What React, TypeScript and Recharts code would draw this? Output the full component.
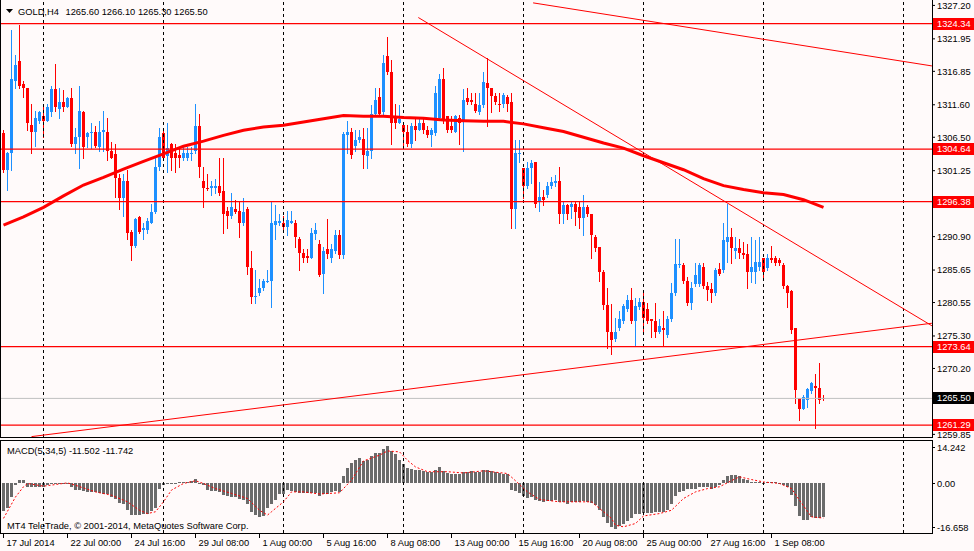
import React from "react";
import { ComposedChart, Bar, Line, XAxis, YAxis, ReferenceLine } from "recharts";

// GOLD H4, 17 Jul - 2 Sep 2014, one candle per slot
const OPEN = [
  1307.1, 1301.3, 1304.0, 1315.4, 1318.4, 1314.8, 1314.2, 1308.5, 1307.3, 1309.1,
  1309.9, 1309.1, 1310.4, 1314.0, 1310.9, 1312.0, 1311.3, 1312.6, 1305.5, 1306.6,
  1310.4, 1306.5, 1307.1, 1307.4, 1304.9, 1307.3, 1307.3, 1304.4, 1303.8, 1300.1,
  1296.9, 1299.7, 1291.7, 1289.4, 1294.0, 1291.9, 1292.0, 1293.1, 1294.7, 1301.9,
  1307.1, 1303.6, 1305.5, 1304.0, 1303.7, 1303.2, 1303.3, 1304.0, 1304.4, 1308.2,
  1299.7, 1298.6, 1298.6, 1298.6, 1298.9, 1298.0, 1294.9, 1294.1, 1295.3, 1294.9,
  1293.0, 1295.3, 1285.9, 1281.4, 1282.1, 1282.8, 1283.9, 1284.0, 1292.7, 1293.1,
  1293.1, 1292.4, 1293.1, 1293.1, 1290.6, 1288.3, 1287.8, 1287.6, 1291.3, 1289.8,
  1285.0, 1288.9, 1287.6, 1288.6, 1291.1, 1288.0, 1306.8, 1307.4, 1305.1, 1306.0,
  1306.3, 1303.5, 1304.4, 1310.2, 1312.8, 1310.4, 1319.2, 1316.7, 1309.9, 1308.8,
  1308.5, 1307.4, 1305.5, 1308.2, 1307.7, 1308.8, 1307.6, 1306.8, 1307.1, 1309.6,
  1315.6, 1309.8, 1308.2, 1307.4, 1309.6, 1309.1, 1312.6, 1312.3, 1311.8, 1310.4,
  1311.5, 1315.0, 1314.3, 1312.9, 1311.8, 1311.7, 1312.8, 1312.0, 1295.3, 1303.8,
  1301.6, 1298.8, 1301.6, 1302.6, 1296.4, 1297.1, 1297.4, 1298.8, 1299.3, 1299.7,
  1294.5, 1295.8, 1295.5, 1296.1, 1295.6, 1293.9, 1295.6, 1294.5, 1290.8, 1289.2,
  1285.4, 1280.1, 1275.9, 1274.8, 1276.6, 1277.6, 1279.6, 1281.0, 1277.6, 1279.8,
  1280.6, 1279.6, 1277.9, 1277.6, 1276.0, 1276.6, 1275.5, 1277.9, 1282.0, 1286.4,
  1286.4, 1283.9, 1280.4, 1283.4, 1283.4, 1286.2, 1283.2, 1282.6, 1282.0, 1285.8,
  1285.6, 1290.1, 1290.8, 1288.7, 1289.1, 1288.4, 1288.1, 1285.4, 1285.4, 1286.1,
  1287.6, 1285.9, 1287.5, 1287.5, 1287.2, 1286.5, 1283.1, 1282.3, 1276.5, 1265.5,
  1263.9, 1265.3, 1266.6, 1267.5, 1267.2, 1265.6,
];

const HIGH = [
  1307.6, 1304.2, 1323.4, 1319.4, 1324.2, 1315.4, 1314.3, 1311.8, 1310.7, 1310.7,
  1311.8, 1311.8, 1314.5, 1318.0, 1314.2, 1313.9, 1312.8, 1314.3, 1308.0, 1314.5,
  1310.7, 1307.3, 1308.8, 1308.2, 1309.1, 1310.7, 1309.5, 1305.7, 1305.5, 1300.8,
  1300.8, 1301.3, 1291.9, 1293.8, 1294.1, 1293.1, 1293.9, 1296.1, 1303.2, 1307.9,
  1307.9, 1308.8, 1305.6, 1305.5, 1304.8, 1304.9, 1304.9, 1304.9, 1311.8, 1310.2,
  1301.8, 1300.8, 1299.7, 1299.9, 1303.2, 1303.2, 1295.5, 1297.7, 1296.6, 1296.3,
  1296.9, 1295.6, 1288.7, 1285.6, 1284.3, 1284.3, 1285.6, 1296.4, 1295.8, 1294.4,
  1294.2, 1295.0, 1295.0, 1293.5, 1290.9, 1289.0, 1289.0, 1292.2, 1293.1, 1290.3,
  1289.2, 1293.6, 1289.7, 1291.9, 1292.0, 1307.4, 1309.0, 1307.9, 1307.7, 1307.6,
  1308.0, 1307.9, 1311.5, 1314.2, 1314.2, 1319.4, 1322.3, 1318.7, 1311.8, 1311.5,
  1308.7, 1308.4, 1308.7, 1309.5, 1309.6, 1309.6, 1308.2, 1308.0, 1314.6, 1316.4,
  1317.3, 1309.8, 1309.8, 1310.0, 1310.0, 1314.0, 1314.3, 1313.5, 1313.5, 1313.5,
  1316.8, 1318.9, 1314.3, 1313.5, 1313.4, 1313.4, 1313.1, 1313.4, 1306.0, 1306.0,
  1301.6, 1302.6, 1302.9, 1302.6, 1299.4, 1298.2, 1299.4, 1300.2, 1300.5, 1301.9,
  1296.3, 1296.1, 1296.3, 1296.3, 1296.3, 1297.5, 1295.8, 1294.5, 1291.1, 1289.2,
  1285.6, 1282.9, 1280.3, 1278.2, 1279.3, 1280.3, 1281.7, 1282.8, 1281.2, 1281.2,
  1282.1, 1280.4, 1277.9, 1280.4, 1277.9, 1279.3, 1278.5, 1283.6, 1290.6, 1290.6,
  1286.8, 1284.5, 1283.7, 1286.8, 1286.8, 1286.7, 1283.7, 1283.6, 1285.9, 1286.8,
  1293.1, 1296.1, 1292.2, 1290.8, 1290.6, 1290.0, 1289.8, 1290.9, 1290.3, 1290.9,
  1287.6, 1288.1, 1289.5, 1287.8, 1287.5, 1286.8, 1283.3, 1282.5, 1276.5, 1265.5,
  1266.0, 1267.2, 1268.0, 1269.4, 1271.0, 1266.1,
];

const LOW = [
  1301.0, 1298.2, 1301.3, 1314.3, 1314.3, 1312.8, 1307.6, 1304.1, 1305.1, 1308.8,
  1306.5, 1309.0, 1309.9, 1310.7, 1309.6, 1310.7, 1311.2, 1305.2, 1304.0, 1301.6,
  1303.2, 1304.9, 1304.8, 1304.9, 1304.4, 1304.4, 1302.9, 1303.2, 1297.1, 1295.3,
  1294.2, 1290.6, 1287.2, 1289.2, 1291.4, 1290.6, 1291.4, 1293.0, 1294.6, 1301.3,
  1302.9, 1301.0, 1301.3, 1301.1, 1301.8, 1303.0, 1302.9, 1303.0, 1304.1, 1300.2,
  1295.5, 1298.2, 1297.5, 1297.7, 1297.5, 1291.4, 1292.2, 1293.9, 1294.6, 1290.9,
  1292.7, 1285.0, 1280.4, 1280.4, 1281.8, 1282.5, 1283.7, 1279.9, 1290.6, 1292.7,
  1291.9, 1291.1, 1293.0, 1289.2, 1285.6, 1286.9, 1286.9, 1287.5, 1290.6, 1284.7,
  1282.0, 1287.5, 1286.9, 1288.3, 1287.6, 1287.6, 1304.0, 1303.2, 1304.4, 1305.7,
  1301.6, 1301.6, 1303.3, 1310.1, 1309.9, 1310.1, 1316.4, 1305.5, 1308.0, 1308.7,
  1304.8, 1305.2, 1304.9, 1306.0, 1307.6, 1307.1, 1306.5, 1305.1, 1306.8, 1309.5,
  1308.8, 1307.4, 1307.3, 1307.3, 1305.5, 1304.4, 1311.8, 1311.7, 1310.4, 1310.2,
  1311.3, 1308.2, 1310.4, 1311.7, 1310.6, 1311.3, 1310.7, 1292.2, 1292.3, 1302.6,
  1296.9, 1298.6, 1299.3, 1295.6, 1295.0, 1295.8, 1297.1, 1298.5, 1298.9, 1293.1,
  1293.1, 1293.6, 1293.8, 1292.7, 1292.2, 1291.1, 1294.1, 1287.5, 1288.7, 1284.0,
  1279.6, 1273.4, 1272.4, 1274.5, 1276.2, 1277.3, 1279.3, 1277.4, 1273.8, 1279.5,
  1275.7, 1277.3, 1275.1, 1275.1, 1275.7, 1273.8, 1275.1, 1277.6, 1281.7, 1286.2,
  1283.6, 1280.1, 1279.6, 1283.1, 1283.1, 1282.9, 1280.9, 1280.7, 1281.7, 1284.8,
  1285.3, 1286.9, 1286.7, 1287.5, 1287.5, 1287.5, 1282.9, 1283.7, 1283.6, 1285.6,
  1284.2, 1285.6, 1286.9, 1286.4, 1286.4, 1282.9, 1279.8, 1275.7, 1264.7, 1262.1,
  1263.9, 1264.1, 1266.3, 1260.9, 1264.7, 1265.3,
];

const CLOSE = [
  1301.3, 1304.0, 1315.7, 1317.8, 1314.6, 1314.2, 1308.7, 1307.4, 1309.5, 1310.4,
  1309.1, 1311.3, 1314.0, 1311.2, 1312.0, 1311.2, 1312.6, 1305.5, 1306.6, 1310.7,
  1304.9, 1307.1, 1307.4, 1305.1, 1307.4, 1307.6, 1304.4, 1303.3, 1300.1, 1296.9,
  1299.7, 1291.4, 1289.4, 1293.6, 1291.7, 1292.2, 1293.3, 1294.7, 1301.9, 1306.6,
  1303.2, 1304.8, 1303.3, 1303.3, 1303.3, 1304.0, 1304.1, 1304.1, 1308.2, 1301.8,
  1298.5, 1298.5, 1298.8, 1298.8, 1297.8, 1294.5, 1294.1, 1295.5, 1294.7, 1293.0,
  1294.7, 1286.1, 1281.4, 1281.5, 1282.9, 1283.9, 1284.0, 1293.1, 1293.3, 1293.3,
  1292.4, 1293.5, 1293.3, 1290.8, 1288.3, 1287.5, 1287.6, 1291.4, 1292.0, 1284.8,
  1288.6, 1288.1, 1288.9, 1291.1, 1288.0, 1307.0, 1307.3, 1303.7, 1306.0, 1306.5,
  1303.7, 1304.3, 1310.2, 1312.3, 1310.2, 1318.1, 1316.7, 1308.8, 1308.7, 1309.3,
  1307.3, 1305.5, 1308.2, 1307.6, 1308.7, 1307.6, 1306.8, 1307.6, 1313.4, 1315.6,
  1309.1, 1307.7, 1307.7, 1309.8, 1308.8, 1312.3, 1312.1, 1312.0, 1310.7, 1311.5,
  1315.1, 1314.3, 1312.9, 1312.0, 1311.5, 1313.1, 1311.8, 1295.3, 1304.0, 1304.1,
  1298.9, 1301.6, 1302.4, 1296.1, 1297.1, 1296.6, 1298.8, 1299.4, 1299.7, 1294.5,
  1295.8, 1294.5, 1296.1, 1294.7, 1293.9, 1295.6, 1294.4, 1291.1, 1289.1, 1285.4,
  1280.1, 1275.9, 1274.6, 1276.0, 1277.9, 1280.0, 1281.0, 1277.6, 1280.0, 1280.6,
  1278.2, 1277.6, 1277.6, 1276.0, 1276.8, 1276.3, 1277.9, 1282.0, 1286.6, 1286.6,
  1283.9, 1280.4, 1282.9, 1284.8, 1286.4, 1283.2, 1282.5, 1282.1, 1285.6, 1285.1,
  1290.3, 1290.8, 1289.1, 1289.1, 1288.4, 1288.0, 1285.4, 1286.2, 1286.9, 1286.9,
  1285.4, 1287.6, 1287.2, 1286.7, 1286.7, 1283.1, 1282.1, 1276.2, 1266.8, 1263.9,
  1265.7, 1266.9, 1267.9, 1267.2, 1265.2, 1265.5,
];

// moving average: [candle index, price]
const MA_POINTS: [number, number][] = [
  [0, 1292.7], [5, 1294.0], [10, 1295.5], [15, 1297.3], [20, 1299.0], [25, 1300.2],
  [30, 1301.5], [35, 1302.7], [40, 1303.9], [45, 1305.1], [50, 1305.9], [55, 1306.8],
  [60, 1307.6], [65, 1308.1], [70, 1308.4], [75, 1308.9], [80, 1309.4], [85, 1309.9],
  [90, 1309.8], [95, 1309.8], [100, 1309.6], [105, 1309.5], [110, 1309.2], [115, 1309.1],
  [120, 1309.0], [125, 1309.0], [130, 1308.6], [135, 1308.0], [140, 1307.4], [145, 1306.5],
  [150, 1305.6], [155, 1304.8], [160, 1303.6], [165, 1302.5], [170, 1301.4], [175, 1300.0],
  [180, 1298.9], [185, 1298.3], [190, 1297.8], [195, 1297.5], [200, 1296.7], [205, 1295.5],
];

const MACD_HIST = [
  -9.3, -8.5, -4.7, -0.8, 0.9, 0.9, -1.5, -1.5, -1.5, -1.3,
  -1.5, -0.8, -0.4, -0.2, -0.2, -0.2, -0.2, -1.5, -2.4, -2.4,
  -2.7, -3.0, -3.0, -3.0, -3.3, -3.6, -3.8, -4.7, -5.2, -6.6,
  -7.1, -9.1, -10.8, -10.8, -10.8, -10.4, -10.2, -9.3, -8.5, -1.9,
  -0.8, -0.2, -0.2, 0.1, 0.4, 0.4, 0.4, 0.6, 1.2, -0.2,
  -0.8, -2.4, -2.7, -2.7, -3.0, -4.1, -4.5, -4.7, -4.7, -5.2,
  -5.7, -7.1, -9.6, -10.8, -11.3, -11.0, -8.5, -7.1, -5.7, -3.6,
  -3.6, -2.4, -2.7, -3.0, -3.3, -3.3, -3.3, -3.3, -3.3, -4.2,
  -3.6, -3.6, -3.0, -2.8, -3.0, 2.2, 5.1, 6.6, 7.5, 8.1,
  7.3, 7.5, 8.9, 10.0, 10.0, 11.4, 12.3, 10.7, 9.5, 7.7,
  6.4, 5.1, 4.7, 4.4, 4.4, 4.0, 3.7, 3.7, 4.4, 5.3,
  4.0, 3.3, 2.9, 3.1, 2.9, 3.7, 3.7, 3.9, 3.7, 3.7,
  4.2, 4.4, 4.0, 3.7, 3.3, 3.1, 3.1, -2.4, -2.8, -3.3,
  -4.4, -5.0, -4.7, -5.6, -6.1, -6.3, -6.0, -6.0, -5.7, -6.3,
  -6.3, -6.9, -6.3, -6.3, -6.3, -6.0, -6.3, -6.6, -7.4, -8.9,
  -11.5, -13.3, -14.8, -15.2, -14.4, -13.7, -12.6, -11.8, -10.4, -10.2,
  -10.0, -10.0, -10.0, -9.6, -9.6, -9.6, -9.1, -7.1, -4.4, -3.0,
  -2.7, -2.2, -2.2, -1.9, -1.5, -1.5, -1.5, -1.9, -1.5, -0.8,
  0.9, 2.2, 2.5, 2.5, 2.2, 1.4, 0.9, 0.4, 0.4, 0.4,
  0.1, 0.4, 0.4, 0.4, -0.2, -0.8, -1.3, -4.1, -7.7, -11.0,
  -12.2, -12.4, -11.5, -11.8, -11.8, -11.5,
];

// signal line: [candle index, value]
const MACD_SIGNAL: [number, number][] = [
  [0, -11.8], [3, -4.7], [5, -1.3], [6, -0.2], [10, -1.1], [16, 0.0], [18, -0.8],
  [23, -3.0], [27, -4.1], [31, -6.3], [34, -9.1], [36, -10.2], [38, -9.6], [40, -6.3],
  [42, -2.4], [45, -0.2], [48, 0.7], [50, -0.2], [53, -1.9], [57, -3.5], [61, -5.2],
  [64, -9.1], [66, -10.7], [67, -9.6], [70, -6.3], [72, -3.0], [75, -3.0], [79, -3.7],
  [84, -3.3], [87, 0.9], [90, 7.3], [94, 9.2], [96, 10.6], [99, 10.3], [101, 7.5],
  [103, 5.3], [106, 3.7], [111, 3.7], [115, 3.3], [120, 4.0], [126, 3.1], [128, 0.7],
  [131, -3.0], [134, -5.5], [139, -6.3], [147, -6.3], [149, -8.5], [152, -11.8],
  [153, -14.1], [155, -14.6], [158, -13.5], [160, -11.0], [164, -10.2], [167, -9.1],
  [170, -5.2], [173, -3.0], [176, -1.9], [179, -1.3], [183, 1.4], [184, 2.0], [187, 1.1],
  [190, 0.3], [194, -0.2], [197, -1.9], [199, -5.8], [202, -11.3], [205, -11.7],
];

const DATE_TICKS = [0, 16, 32, 48, 64, 80, 96, 112, 128, 144, 160, 176, 192];
const DATE_LABELS = [
  "17 Jul 2014", "22 Jul 00:00", "24 Jul 16:00", "29 Jul 08:00", "1 Aug 00:00",
  "5 Aug 16:00", "8 Aug 08:00", "13 Aug 00:00", "15 Aug 16:00", "20 Aug 08:00",
  "25 Aug 00:00", "27 Aug 16:00", "1 Sep 08:00",
];
const PRICE_TICKS = [
  1327.2, 1321.95, 1316.85, 1311.6, 1306.5, 1301.25, 1290.9, 1285.65, 1280.55,
  1275.3, 1270.2, 1259.85,
];
const MACD_TICKS = [14.242, 0, -16.658];
const LEVELS = [1324.34, 1304.64, 1296.38, 1273.64, 1261.29];
const BID = 1265.5;
const GRID_AT = [10, 40, 70, 100, 130, 160, 190, 225];
const TRENDLINES: [number, number][][] = [
  [[132.4, 1327.6], [232.1, 1317.7]],
  [[103.7, 1325.3], [232.1, 1276.9]],
  [[7, 1259.5], [232.1, 1277.3]],
];

const FONT = '"Liberation Sans", Arial, sans-serif';
const FS = 9.3;
const BLUE = "#1e90ff";
const RED = "#ff0000";
const BG = "#fffafa";
const X_DOMAIN: [number, number] = [-0.875, 232.125];

const maMap = new Map(MA_POINTS);
const sigMap = new Map(MACD_SIGNAL);
const rows = OPEN.map((o, i) => ({
  i,
  open: o,
  high: HIGH[i],
  low: LOW[i],
  close: CLOSE[i],
  ma: maMap.has(i) ? maMap.get(i) : null,
  macd: MACD_HIST[i],
  signal: sigMap.has(i) ? sigMap.get(i) : null,
}));

function Candle(props: any) {
  const { x, y, width, height, payload } = props;
  if (x == null || y == null) return null;
  const { open, close, high, low } = payload;
  const top = Math.min(y, y + height);
  const h = Math.abs(height);
  const span = high - low || 1;
  const py = (v: number) => top + ((high - v) / span) * h;
  const color = close >= open ? BLUE : RED;
  const cx = Math.round(x + width / 2 - 0.5) + 0.5;
  const bTop = Math.round(py(Math.max(open, close)));
  const bBot = Math.round(py(Math.min(open, close)));
  return (
    <g>
      <line x1={cx} x2={cx} y1={Math.round(top)} y2={Math.round(top + h) + 1} stroke={color} strokeWidth={1} />
      <rect x={cx - 1.5} y={bTop} width={3} height={Math.max(1, bBot - bTop)} fill={color} />
    </g>
  );
}

function HistBar(props: any) {
  const { x, y, width, height } = props;
  if (x == null || y == null) return null;
  const cx = Math.round(x + width / 2 - 0.5) + 0.5;
  const top = Math.round(Math.min(y, y + height));
  const bot = Math.round(Math.max(y, y + height));
  return <rect x={cx - 1.5} y={top} width={3} height={Math.max(1, bot - top)} fill="#6b6b6b" />;
}

function PriceTag(props: any) {
  const { viewBox, text, bg } = props;
  if (!viewBox) return null;
  const x = viewBox.x + viewBox.width;
  const y = Math.round(viewBox.y);
  return (
    <g>
      <rect x={x + 1} y={y - 6} width={41} height={12} fill={bg} />
      <text x={x + 5} y={y} dy="0.35em" fill="#fff" fontSize={FS} fontFamily={FONT}>
        {text}
      </text>
    </g>
  );
}

function MacdTick(props: any) {
  const { x, y, payload } = props;
  const v = payload.value;
  const dy = v > 1 ? 7 : v < -1 ? -6 : 0;
  const label = v === 0 ? "0.00" : v.toFixed(3);
  const ty = Math.round(y + dy) + 0.5;
  return (
    <g>
      <line x1={x - 5} x2={x - 2} y1={ty} y2={ty} stroke="#000" />
      <text x={x} y={ty} dy="0.35em" fontSize={FS} fontFamily={FONT} fill="#000">
        {label}
      </text>
    </g>
  );
}

function DateTick(props: any) {
  const { x, y, payload } = props;
  const k = DATE_TICKS.indexOf(payload.value);
  const lx = Math.round(x - 0.5) + 0.5;
  return (
    <g>
      <line x1={lx} x2={lx} y1={y - 5} y2={y} stroke="#000" />
      <text x={x + 3} y={y + 8} fontSize={FS} fontFamily={FONT} fill="#000">
        {DATE_LABELS[k]}
      </text>
    </g>
  );
}

export default function App() {
  return (
    <div style={{ position: "absolute", left: 0, top: 0, width: 974, height: 551, background: BG, overflow: "hidden" }}>
      <div style={{ position: "absolute", left: 0, top: 0 }}>
        <ComposedChart width={974} height={440} data={rows} margin={{ top: 0, right: 0, bottom: 3, left: 0 }}>
          <XAxis dataKey="i" type="number" domain={X_DOMAIN} allowDataOverflow hide />
          <YAxis
            orientation="right"
            type="number"
            width={42}
            domain={[1259.44, 1328.05]}
            allowDataOverflow
            ticks={PRICE_TICKS}
            interval={0}
            tickFormatter={(v: number) => v.toFixed(2)}
            tick={{ fontSize: FS, fill: "#000", fontFamily: FONT }}
            axisLine={false}
            tickLine={{ stroke: "#000" }}
            tickSize={3}
            tickMargin={2}
          />
          {GRID_AT.map((g) => (
            <ReferenceLine key={"g" + g} x={g} stroke="#000" strokeDasharray="3 3" />
          ))}
          <ReferenceLine y={BID} stroke="#c0c0c0" label={<PriceTag text={BID.toFixed(2)} bg="#000" />} />
          {LEVELS.map((lv) => (
            <ReferenceLine
              key={"l" + lv}
              y={lv}
              stroke={RED}
              strokeWidth={1.2}
              label={<PriceTag text={lv.toFixed(2)} bg={RED} />}
            />
          ))}
          {TRENDLINES.map((t, k) => (
            <ReferenceLine
              key={"t" + k}
              segment={[{ x: t[0][0], y: t[0][1] }, { x: t[1][0], y: t[1][1] }]}
              stroke={RED}
              ifOverflow="visible"
            />
          ))}
          <Bar
            dataKey={(d: any) => [d.low, d.high]}
            barSize={3}
            shape={(p: any) => <Candle {...p} />}
            isAnimationActive={false}
          />
          <Line
            dataKey="ma"
            type="linear"
            stroke={RED}
            strokeWidth={3}
            dot={false}
            activeDot={false}
            connectNulls
            isAnimationActive={false}
          />
        </ComposedChart>
      </div>

      <div style={{ position: "absolute", left: 0, top: 440 }}>
        <ComposedChart width={974} height={111} data={rows} margin={{ top: 0, right: 0, bottom: 0, left: 0 }}>
          <XAxis
            dataKey="i"
            type="number"
            domain={X_DOMAIN}
            allowDataOverflow
            ticks={DATE_TICKS}
            interval={0}
            height={18}
            axisLine={false}
            tickLine={false}
            tickSize={5}
            tickMargin={0}
            tick={(p: any) => <DateTick {...p} />}
          />
          <YAxis
            orientation="right"
            type="number"
            width={42}
            domain={[-16.658, 14.242]}
            allowDataOverflow
            ticks={MACD_TICKS}
            interval={0}
            axisLine={false}
            tickLine={false}
            tickSize={3}
            tickMargin={2}
            tick={(p: any) => <MacdTick {...p} />}
          />
          {GRID_AT.map((g) => (
            <ReferenceLine key={"mg" + g} x={g} stroke="#000" strokeDasharray="3 3" />
          ))}
          <Bar dataKey="macd" barSize={3} shape={(p: any) => <HistBar {...p} />} isAnimationActive={false} />
          <Line
            dataKey="signal"
            type="linear"
            stroke={RED}
            strokeWidth={1}
            strokeDasharray="2 2"
            dot={false}
            activeDot={false}
            connectNulls
            isAnimationActive={false}
          />
        </ComposedChart>
      </div>

      <svg
        width={974}
        height={551}
        style={{ position: "absolute", left: 0, top: 0, pointerEvents: "none" }}
      >
        <g stroke="#000" strokeWidth={1} shapeRendering="crispEdges">
          <line x1={0.5} x2={0.5} y1={0} y2={438} />
          <line x1={0.5} x2={0.5} y1={440} y2={534} />
          <line x1={932.5} x2={932.5} y1={0} y2={438} />
          <line x1={932.5} x2={932.5} y1={440} y2={534} />
          <line x1={0} x2={933} y1={437.5} y2={437.5} />
          <line x1={0} x2={933} y1={440.5} y2={440.5} />
          <line x1={0} x2={933} y1={533.5} y2={533.5} />
        </g>
        <polygon points="6,9 13,9 9.5,13" fill="#000" />
        <text x={18} y={15} fontSize={FS} fontFamily={FONT} fill="#000">GOLD,H4</text>
        <text x={65.5} y={15} fontSize={FS} fontFamily={FONT} fill="#000">
          1265.60 1266.10 1265.30 1265.50
        </text>
        <text x={7} y={453.5} fontSize={FS} fontFamily={FONT} fill="#000">
          MACD(5,34,5) -11.502 -11.742
        </text>
        <text x={7} y={529} fontSize={FS} fontFamily={FONT} fill="#000">
          MT4 TeleTrade, © 2001-2014, MetaQuotes Software Corp.
        </text>
      </svg>
    </div>
  );
}
